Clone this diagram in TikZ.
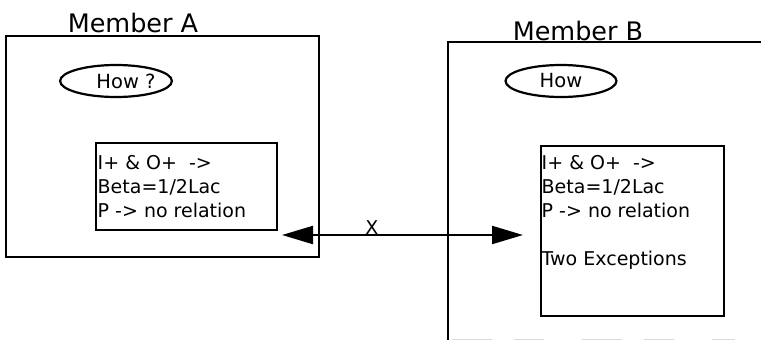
\documentclass[tikz,border=0pt]{standalone}
\usepackage{fontspec}
\setmainfont{DejaVu Sans}
\usetikzlibrary{arrows.meta,shapes.geometric}
\begin{document}
\begin{tikzpicture}[x=1pt,y=-1pt,
  frame/.style={draw, line width=2.2pt, inner sep=0pt},
  body/.style={font=\fontsize{19}{24}\selectfont, align=left, inner sep=0pt, anchor=north west},
  title/.style={font=\fontsize{25.5}{30}\selectfont, inner sep=0pt, anchor=base},
  bubble/.style={draw, ellipse, line width=2.2pt, minimum width=108pt, minimum height=32pt,
                 inner sep=0pt, font=\fontsize{19.5}{22}\selectfont},
  link/.style={line width=2.2pt, {Triangle[length=31pt,width=18pt]}-{Triangle[length=31pt,width=18pt]}},
  mark label/.style={font=\fontsize{19}{22}\selectfont, inner sep=0pt, anchor=south}
]
\useasboundingbox (0,0) rectangle (761,341);

% Member A: closed frame
\node[frame, minimum width=313pt, minimum height=221pt, anchor=north west] (boxA) at (5,35) {};
\node[title] (titleA) at (133,32) {Member A};
\node[bubble] (howA) at (116,81) {\hspace*{20pt}How ?};
\node[frame, minimum width=181pt, minimum height=87pt, anchor=north west] (rulesA) at (95,142) {};
\node[body] (textA) at (97.5,155.5) {I+ \& O+~~->\\Beta=1/2Lac\\P -> no relation};

% Member B: frame open to the right, faint lower edge
\draw[line width=2.2pt] (761,42) -- (448,42) -- (448,340);
\draw[gray!30, line width=0.8pt, dash pattern=on 40pt off 22pt on 30pt off 38pt] (452,339) -- (735,339);
\node[title] (titleB) at (578,40) {Member B};
\node[bubble, minimum width=111pt] (howB) at (561,81) {How};
\node[frame, minimum width=183pt, minimum height=170pt, anchor=north west] (rulesB) at (540,145) {};
\node[body] (textB) at (541.5,155.5) {I+ \& O+~~->\\Beta=1/2Lac\\P -> no relation\\[24pt]Two Exceptions};

% Two-way link between the members
\coordinate (tipA) at (282,235);
\coordinate (tipB) at (523,235);
\draw[link] (tipA) -- (tipB);
\node[mark label] (xmark) at (372,235) {X};
\end{tikzpicture}
\end{document}
